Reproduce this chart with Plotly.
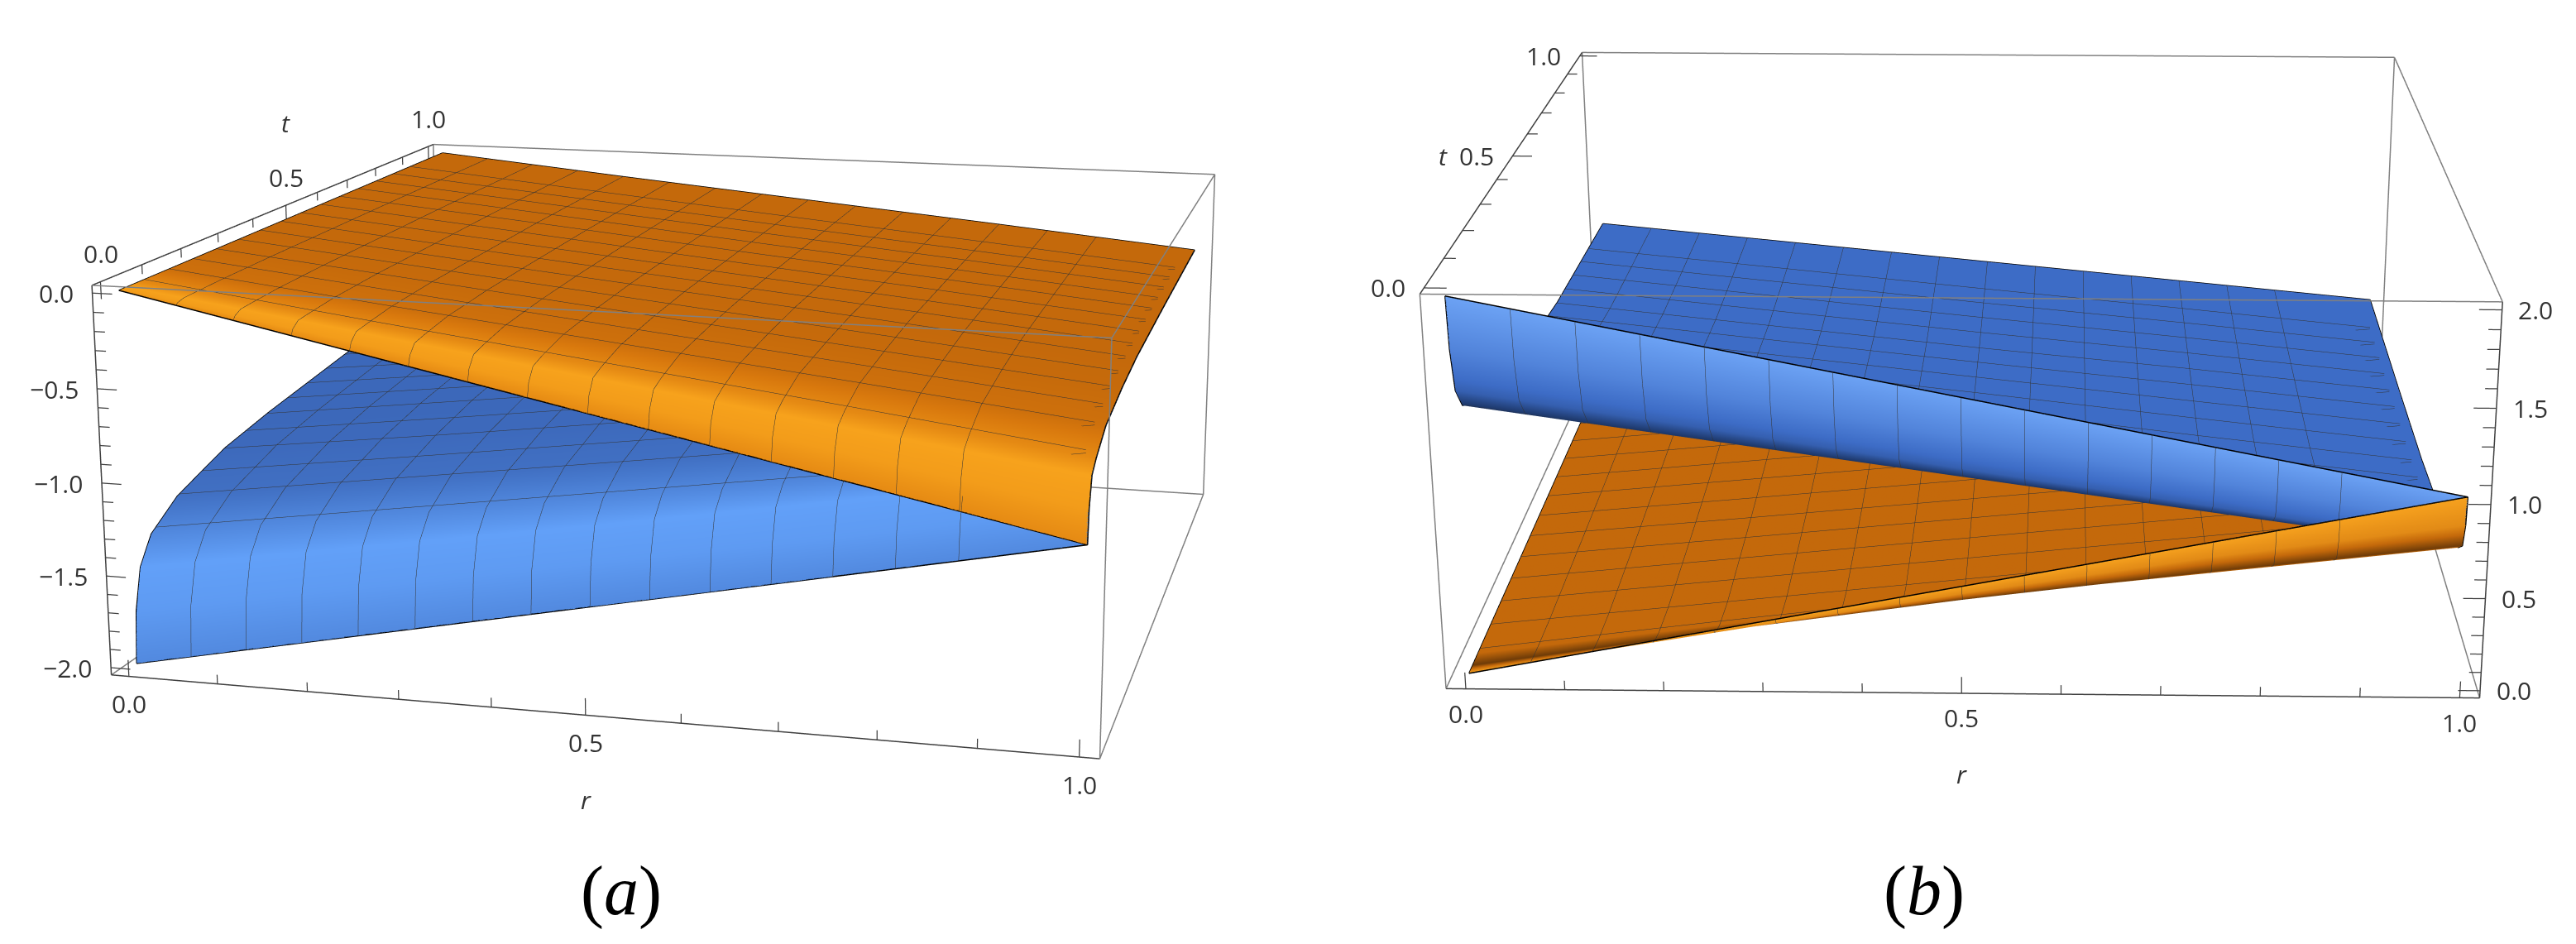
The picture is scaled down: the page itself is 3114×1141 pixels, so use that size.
import plotly.graph_objects as go

# surface data, rows follow t_vals, columns follow r_vals
r_vals = [0, 0.25, 0.5, 0.75, 1]
t_vals = [0, 0.005, 0.02, 0.05, 0.12, 0.25, 0.38, 0.63, 1]

a_orange = [
    [0, -0.25, -0.5, -0.75, -1],
    [0, -0.21, -0.415, -0.62, -0.83],
    [0, -0.17, -0.34, -0.51, -0.68],
    [0, -0.16, -0.315, -0.47, -0.63],
    [0, -0.14, -0.275, -0.41, -0.55],
    [0, -0.125, -0.25, -0.375, -0.5],
    [0, -0.12, -0.235, -0.35, -0.47],
    [0, -0.11, -0.225, -0.335, -0.45],
    [0, -0.11, -0.215, -0.32, -0.43],
]
a_blue = [
    [-2, -1.75, -1.5, -1.25, -1],
    [-1.72, -1.5, -1.28, -1.06, -0.83],
    [-1.5, -1.3, -1.1, -0.89, -0.68],
    [-1.36, -1.18, -1.0, -0.82, -0.63],
    [-1.24, -1.07, -0.9, -0.73, -0.55],
    [-1.13, -0.98, -0.82, -0.66, -0.5],
    [-1.07, -0.92, -0.77, -0.62, -0.47],
    [-0.98, -0.85, -0.72, -0.58, -0.45],
    [-0.93, -0.8, -0.68, -0.55, -0.43],
]
b_orange = [
    [0, 0.25, 0.5, 0.75, 1],
    [0, 0.225, 0.45, 0.66, 0.84],
    [0, 0.2, 0.385, 0.55, 0.7],
    [0, 0.17, 0.33, 0.48, 0.63],
    [0, 0.14, 0.28, 0.42, 0.56],
    [0, 0.13, 0.26, 0.39, 0.52],
    [0, 0.12, 0.245, 0.37, 0.49],
    [0, 0.12, 0.235, 0.35, 0.47],
    [0, 0.11, 0.225, 0.34, 0.45],
]
b_blue = [
    [2, 1.75, 1.5, 1.25, 1],
    [1.72, 1.5, 1.28, 1.06, 0.84],
    [1.48, 1.29, 1.09, 0.9, 0.7],
    [1.35, 1.17, 0.99, 0.81, 0.63],
    [1.24, 1.07, 0.9, 0.73, 0.56],
    [1.13, 0.98, 0.83, 0.67, 0.52],
    [1.06, 0.92, 0.78, 0.63, 0.49],
    [0.98, 0.85, 0.72, 0.6, 0.47],
    [0.93, 0.81, 0.69, 0.57, 0.45],
]

# colour position per row of t_vals
a_shade = [0.6, 0.9, 1, 0.6, 0.15, 0.03, 0, 0, 0]
b_orange_shade = [1, 0.8, 0.15, 0.5, 0.5, 0.5, 0.5, 0.5, 0.5]
b_blue_shade = [1, 0.72, 0.42, 0.15, 0.03, 0.5, 0.5, 0.5, 0.5]

tick_vals = [i / 10 for i in range(11)]
a_z_ticks = [-i / 10 for i in range(21)]
b_z_ticks = [i / 10 for i in range(21)]
mesh = 1 / 16

# the page shows a window of this taller layout, plotly's lens is fixed so
# the long focal length of the original needs a big scene
LW, LH, OFF, HALF_H = 3200, 3030, 1070, 1491.15
# lines sitting right on the axis range get clipped, so pad the range a bit
PAD = 1.046 / 1.04


def scene_domain(cx, cy, half_w):
    return dict(x=[(cx - half_w) / LW, (cx + half_w) / LW],
                y=[1 - (cy + OFF + HALF_H) / LH, 1 - (cy + OFF - HALF_H) / LH])


def surface(z, shade, colors, scene):
    return go.Surface(
        x=r_vals, y=t_vals, z=z, surfacecolor=[[s] * len(r_vals) for s in shade],
        colorscale=colors, cmin=0, cmax=1, showscale=False, scene=scene, hoverinfo="skip",
        lighting=dict(ambient=1, diffuse=0, specular=0, fresnel=0, roughness=1),
        contours=dict(
            x=dict(show=True, start=mesh, end=1 - mesh, size=mesh, color="#333333", width=4, highlight=False),
            y=dict(show=True, start=mesh, end=1 - mesh, size=mesh, color="#333333", width=4, highlight=False),
            z=dict(highlight=False),
        ),
    )


def lines(segments, color, width, scene):
    xs, ys, zs = [], [], []
    for seg in segments:
        for p in seg:
            xs.append(p[0])
            ys.append(p[1])
            zs.append(p[2])
        xs.append(None)
        ys.append(None)
        zs.append(None)
    return go.Scatter3d(x=xs, y=ys, z=zs, mode="lines", line=dict(color=color, width=width),
                        scene=scene, hoverinfo="skip", showlegend=False)


def outline(z):
    last = len(t_vals) - 1
    front = [(r, 0, z[0][i]) for i, r in enumerate(r_vals)]
    back = [(r, 1, z[last][i]) for i, r in enumerate(r_vals)]
    left = [(0, t, z[j][0]) for j, t in enumerate(t_vals)]
    right = [(1, t, z[j][-1]) for j, t in enumerate(t_vals)]
    return [front, back, left, right]


def box_edges(zlo, zhi):
    lo, hi = -0.02, 1.02
    edges = {}
    edges["flb"] = [(lo, lo, zlo), (hi, lo, zlo)]
    edges["flt"] = [(lo, lo, zhi), (hi, lo, zhi)]
    edges["blb"] = [(lo, hi, zlo), (hi, hi, zlo)]
    edges["blt"] = [(lo, hi, zhi), (hi, hi, zhi)]
    edges["lfz"] = [(lo, lo, zlo), (lo, lo, zhi)]
    edges["rfz"] = [(hi, lo, zlo), (hi, lo, zhi)]
    edges["lbz"] = [(lo, hi, zlo), (lo, hi, zhi)]
    edges["rbz"] = [(hi, hi, zlo), (hi, hi, zhi)]
    edges["ltb"] = [(lo, lo, zlo), (lo, hi, zlo)]
    edges["ltt"] = [(lo, lo, zhi), (lo, hi, zhi)]
    edges["rtb"] = [(hi, lo, zlo), (hi, hi, zlo)]
    edges["rtt"] = [(hi, lo, zhi), (hi, hi, zhi)]
    return edges


def tick_len(v, big, small):
    return big if round(v * 10) % 5 == 0 else small


def label(x, y, z, text, **kw):
    return dict(x=x, y=y, z=z, text=text, showarrow=False,
                font=dict(family="Open Sans", size=30, color="#333333"), **kw)


def caption(x, y, text):
    return dict(x=x / LW, y=1 - (y + OFF) / LH, xref="paper", yref="paper", text=text, showarrow=False,
                xanchor="center", yanchor="middle", font=dict(family="Liberation Serif", size=84, color="black"))


def axis(rng):
    return dict(range=rng, visible=False, autorange=False)


orange_a = [[0, "#c4690b"], [0.3, "#d8780d"], [1, "#f7a21c"]]
blue_a = [[0, "#3c68ba"], [0.3, "#4678cc"], [1, "#62a0f8"]]
orange_b = [[0, "#4a2806"], [0.5, "#c4690b"], [1, "#f6a11e"]]
blue_b = [[0, "#0e1e3c"], [0.5, "#3d6cc6"], [1, "#6ca2f4"]]

lo, hi = -0.02, 1.02
fig = go.Figure()

# panel a
ea = box_edges(-2.04, 0.04)
fig.add_trace(surface(a_orange, a_shade, orange_a, "scene"))
fig.add_trace(surface(a_blue, a_shade, blue_a, "scene"))
fig.add_trace(lines(outline(a_orange) + outline(a_blue), "#000000", 3, "scene"))
dark_a = ["flb", "lfz", "ltt"]
fig.add_trace(lines([ea[k] for k in dark_a], "#404040", 3, "scene"))
fig.add_trace(lines([ea[k] for k in ea if k not in dark_a], "#808080", 3, "scene"))
ticks = [[(v, lo, -2.04), (v, lo, -2.04 + tick_len(v, 0.09, 0.05))] for v in tick_vals]
ticks += [[(lo, v, 0.04), (lo, v, 0.04 - tick_len(v, 0.09, 0.05))] for v in tick_vals]
ticks += [[(lo, lo, v), (lo + tick_len(v, 0.022, 0.012), lo, v)] for v in a_z_ticks]
fig.add_trace(lines(ticks, "#404040", 2.5, "scene"))

# panel b
eb = box_edges(-0.04, 2.04)
fig.add_trace(surface(b_orange, b_orange_shade, orange_b, "scene2"))
fig.add_trace(surface(b_blue, b_blue_shade, blue_b, "scene2"))
fig.add_trace(lines(outline(b_orange) + outline(b_blue), "#000000", 3, "scene2"))
dark_b = ["flb", "rfz", "ltt"]
fig.add_trace(lines([eb[k] for k in dark_b], "#404040", 3, "scene2"))
fig.add_trace(lines([eb[k] for k in eb if k not in dark_b], "#808080", 3, "scene2"))
ticks = [[(v, lo, -0.04), (v, lo, -0.04 + tick_len(v, 0.09, 0.05))] for v in tick_vals]
ticks += [[(lo, v, 2.04), (lo + tick_len(v, 0.022, 0.012), v, 2.04)] for v in tick_vals]
ticks += [[(hi, lo, v), (hi - tick_len(v, 0.022, 0.012), lo, v)] for v in b_z_ticks]
fig.add_trace(lines(ticks, "#404040", 2.5, "scene2"))

labels_a = [label(v, lo, -2.04, f"{v:.1f}", yshift=-33) for v in (0, 0.5, 1)]
labels_a += [label(lo, v, 0.04, f"{v:.1f}", yshift=34) for v in (0, 0.5, 1)]
labels_a += [label(lo, lo, v, f"{v:.1f}".replace("-", "\u2212"), xanchor="right", xshift=-21)
             for v in (0, -0.5, -1, -1.5, -2)]
labels_a.append(label(0.5, lo, -2.04, "<i>r</i>", yshift=-102))
labels_a.append(label(lo, 0.5, 0.04, "<i>t</i>", yshift=100))

labels_b = [label(v, lo, -0.04, f"{v:.1f}", yshift=-30) for v in (0, 0.5, 1)]
labels_b += [label(lo, v, 2.04, f"{v:.1f}", xanchor="right", xshift=-20) for v in (0, 0.5, 1)]
labels_b += [label(hi, lo, v, f"{v:.1f}", xanchor="left", xshift=18) for v in (0, 0.5, 1, 1.5, 2)]
labels_b.append(label(0.5, lo, -0.04, "<i>r</i>", yshift=-98))
labels_b.append(label(lo, 0.5, 2.04, "<i>t</i>", xanchor="right", xshift=-76))

fig.update_layout(
    width=LW, height=LH, autosize=False, margin=dict(l=0, r=0, t=0, b=0),
    paper_bgcolor="white", showlegend=False,
    scene=dict(
        domain=scene_domain(915.27, 461.15, 900),
        xaxis=axis([-0.023, 1.023]), yaxis=axis([-0.023, 1.023]), zaxis=axis([-2.046, 0.046]),
        aspectmode="manual", aspectratio=dict(x=1.0283 * PAD, y=PAD, z=0.4117 * PAD),
        camera=dict(eye=dict(x=0.8441, y=-3.1956, z=0.7836),
                    center=dict(x=-0.0556, y=0.4331, z=-0.0754),
                    up=dict(x=-0.0549, y=0.2171, z=0.9746)),
        annotations=labels_a,
    ),
    scene2=dict(
        domain=scene_domain(2443.81, 421.89, 750),
        xaxis=axis([-0.023, 1.023]), yaxis=axis([-0.023, 1.023]), zaxis=axis([-0.046, 2.046]),
        aspectmode="manual", aspectratio=dict(x=1.0329 * PAD, y=PAD, z=0.4151 * PAD),
        camera=dict(eye=dict(x=0.0989, y=-3.1997, z=1.0851),
                    center=dict(x=0.0416, y=0.6969, z=-0.2553),
                    up=dict(x=-0.0074, y=0.3252, z=0.9456)),
        annotations=labels_b,
    ),
    annotations=[caption(751, 1077, "(<i>a</i>)"), caption(2326, 1077, "(<i>b</i>)")],
)

page_fix = (
    "document.documentElement.style.overflow='hidden';"
    "document.body.style.margin='0';document.body.style.overflow='hidden';document.body.style.height='1141px';"
    "document.getElementById('{plot_id}').style.marginTop='-%dpx';" % OFF
)
fig.write_html("out.html", post_script=page_fix)
